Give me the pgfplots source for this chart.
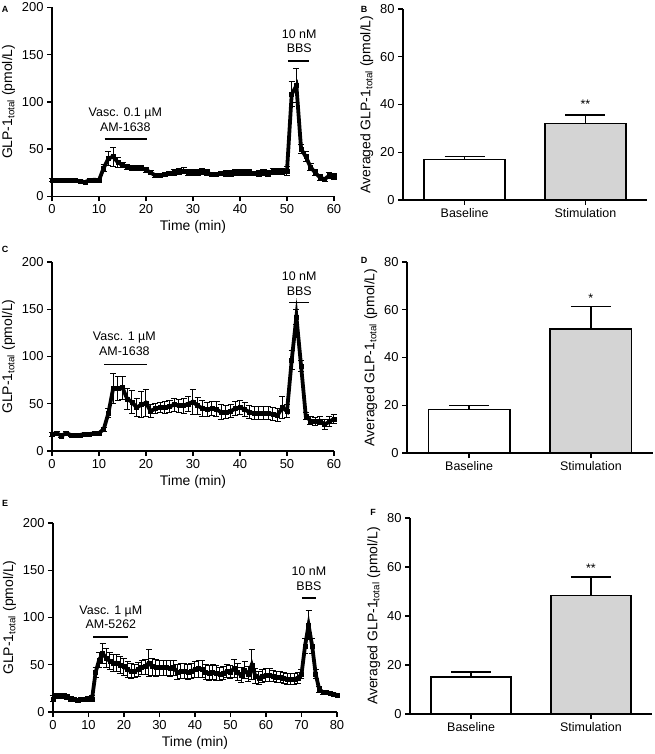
\documentclass[border=0pt]{standalone}
\usepackage{fontspec}
\setmainfont{Liberation Sans}
\usepackage{pgfplots}
\usepackage{pgfplotstable}
\pgfplotsset{compat=1.18}
\newcommand\lbl{\fontsize{12.5}{14.5}\selectfont}
\newcommand\tkl{\fontsize{13}{15}\selectfont}
\newcommand\axl{\fontsize{14}{16}\selectfont}
\definecolor{barGray}{HTML}{D4D4D4}

\pgfplotstableread{
t v e
0 17 1.5
1 17 1.5
2 17 1.5
3 17 1.5
4 16.5 1.5
5 16.5 1.5
6 16 1.5
7 15 1.5
8 17 1.5
9 17.5 1.5
10 17 2
11 30 4
12 40 7
13 42 10
14 36 5
15 33 3
16 31 3
17 30 3
18 30 3
19 30 3
20 28 3
21 25 2
22 22 2
23 22 2
24 23 2
25 24 2
26 25 3
27 26 3
28 27 3
29 25 3
30 25 3
31 25 3
32 26 3
33 25 3
34 23 2
35 23 2
36 24 2
37 24 3
38 24 3
39 25 3
40 25 3
41 25 3
42 25 3
43 24 2
44 24 3
45 25 3
46 24 3
47 26 3
48 26 3
49 26 3
50 27 5
51 108 13
52 117 18
53 50 5
54 42 5
55 31 4
56 25 3
57 20 3
58 18 2
59 22 3
60 21 3
}\dataA

\pgfplotstableread{
t v e
0 17.6 2
1 19 2
2 16 2
3 19 2
4 17 2
5 17 1.5
6 17 1.5
7 18 1.5
8 18 1.5
9 18.5 1.5
10 19 1.5
11 23 2
12 40 5
13 66 16
14 66 13
15 67 12
16 55 11
17 52 12
18 46 10
19 49 14
20 51 14
21 42 7
22 45 5
23 46 5
24 46 6
25 47 6
26 49 7
27 48 7
28 48 8
29 50 8
30 52 13
31 48 9
32 45 8
33 44 7
34 45 7
35 44 8
36 41 8
37 41 7
38 42 7
39 45 7
40 46 7
41 44 7
42 41 7
43 40 7
44 40 7
45 40 7
46 40 7
47 39 7
48 38 7
49 46 12
50 42 7
51 96 10
52 142 8
53 90 6
54 37 4
55 32 4
56 31 4
57 32 4
58 28 5
59 31 5
60 34 5
}\dataC

\pgfplotstableread{
t v e
0 14 3
1 17 3
2 17 3
3 17 3
4 16 3
5 14 2
6 13 2
7 12 2
8 13 2
9 13 2
10 14 2
11 14 3
12 42 5
13 55 8
14 62 11
15 57 10
16 54 9
17 52 9
18 52 9
19 50 9
20 48 9
21 45 8
22 43 8
23 43 7
24 45 7
25 47 7
26 48 8
27 52 14
28 48 9
29 47 9
30 47 8
31 47 8
32 47 8
33 46 8
34 47 8
35 42 8
36 43 8
37 43 8
38 42 8
39 43 8
40 45 8
41 46 9
42 45 9
43 42 8
44 41 8
45 42 8
46 41 8
47 40 7
48 41 7
49 43 7
50 42 7
51 46 10
52 42 9
53 39 8
54 44 9
55 40 8
56 50 16
57 38 8
58 36 7
59 38 7
60 39 7
61 39 7
62 38 6
63 37 6
64 37 6
65 36 6
66 35 6
67 35 6
68 35 6
69 36 6
70 40 5
71 70 8
72 92 15
73 70 8
74 40 5
75 24 3
76 21 2
77 21 2
78 20 2
79 19 2
80 18 2
}\dataE

\pgfplotsset{
  gp/.style={scale only axis, anchor=north west,
    axis x line*=bottom, axis y line*=left,
    axis line style={line width=1.6bp, -},
    tick style={line width=1.4bp, black},
    tick align=outside, major tick length=5bp,
    tick label style={font=\tkl}, label style={font=\axl},
    /pgf/number format/assume math mode=true, clip=false},
  lineplot/.style={gp, ymin=0, ymax=200, ytick={0,50,...,200},
    xlabel={Time (min)}, ylabel={GLP-1\textsubscript{total} (pmol/L)}},
  barplot/.style={gp, xmin=-0.51, xmax=1.51, ymin=0, ymax=80,
    ytick={0,20,...,80}, xtick={0,1}, xticklabels={Baseline,Stimulation},
    xticklabel style={font=\lbl},
    ylabel={Averaged GLP-1\textsubscript{total} (pmol/L)}},
  trace/.style={black, line width=3.8bp, mark=square*, mark size=2bp,
    mark options={line width=0.5bp},
    error bars/y dir=both, error bars/y explicit,
    error bars/error mark=|,
    error bars/error bar style={line width=1bp, black},
    error bars/error mark options={line width=1bp, mark size=3bp, black}},
  bars/.style={ybar, bar width=0.67, bar shift=0pt, draw=black, line width=1.6bp,
    error bars/y dir=plus, error bars/y explicit,
    error bars/error mark=|,
    error bars/error bar style={line width=1.6bp, black},
    error bars/error mark options={line width=1.6bp, mark size=20bp, black}},
}

\begin{document}
\begin{tikzpicture}
\useasboundingbox (0,0) rectangle (655bp,-754bp);
\tikzset{letter/.style={font=\bfseries\fontsize{9}{10}\selectfont}}
\node[letter] at (5bp,-9bp) {A};
\node[letter] at (364bp,-9bp) {B};
\node[letter] at (5bp,-249bp) {C};
\node[letter] at (364bp,-260bp) {D};
\node[letter] at (5bp,-503bp) {E};
\node[letter] at (373bp,-512bp) {F};

% A
\begin{axis}[lineplot, at={(52bp,-7.3bp)}, width=282bp, height=189bp,
  xmin=0, xmax=60, xtick={0,10,...,60}]
\addplot[trace] table[x=t, y=v, y error=e] {\dataA};
\draw[line width=1.6bp] (axis cs:11.2,60.4) -- (axis cs:20.3,60.4);
\node[align=center, font=\lbl] at (axis cs:15.6,81.2) {Vasc. 0.1 µM\\AM-1638};
\draw[line width=1.6bp] (axis cs:50.2,143) -- (axis cs:54.7,143);
\node[align=center, font=\lbl] at (axis cs:52.6,164.2) {10 nM\\BBS};
\end{axis}

% B
\begin{axis}[barplot, at={(403bp,-9bp)}, width=244bp, height=191bp]
\addplot[bars, fill=white] coordinates {(0,17) +- (0,1.3)};
\addplot[bars, fill=barGray] coordinates {(1,32) +- (0,3.6)};
\node[font=\lbl] at (axis cs:1,40) {**};
\end{axis}

% C
\begin{axis}[lineplot, at={(52bp,-262bp)}, width=282bp, height=189bp,
  xmin=0, xmax=60, xtick={0,10,...,60}]
\addplot[trace] table[x=t, y=v, y error=e] {\dataC};
\draw[line width=1.6bp] (axis cs:11.1,91.7) -- (axis cs:20.2,91.7);
\node[align=center, font=\lbl] at (axis cs:15.4,113.5) {Vasc. 1 µM\\AM-1638};
\draw[line width=1.6bp] (axis cs:50.5,157) -- (axis cs:54.7,157);
\node[align=center, font=\lbl] at (axis cs:52.6,177) {10 nM\\BBS};
\end{axis}

% D
\begin{axis}[barplot, at={(407bp,-262bp)}, width=246bp, height=191bp]
\addplot[bars, fill=white] coordinates {(0,18.3) +- (0,1.6)};
\addplot[bars, fill=barGray] coordinates {(1,52) +- (0,9.3)};
\node[font=\lbl] at (axis cs:1,65) {*};
\end{axis}

% E
\begin{axis}[lineplot, at={(53bp,-523bp)}, width=284bp, height=189bp,
  xmin=0, xmax=80, xtick={0,10,...,80}]
\addplot[trace] table[x=t, y=v, y error=e] {\dataE};
\draw[line width=1.6bp] (axis cs:11.3,79.4) -- (axis cs:21.2,79.4);
\node[align=center, font=\lbl] at (axis cs:16.3,100) {Vasc. 1 µM\\AM-5262};
\draw[line width=1.6bp] (axis cs:70.1,120.6) -- (axis cs:74.2,120.6);
\node[align=center, font=\lbl] at (axis cs:72.1,141) {10 nM\\BBS};
\end{axis}

% F
\begin{axis}[barplot, at={(410bp,-518bp)}, width=242bp, height=196bp]
\addplot[bars, fill=white] coordinates {(0,15) +- (0,2.2)};
\addplot[bars, fill=barGray] coordinates {(1,48.3) +- (0,7.7)};
\node[font=\lbl] at (axis cs:1,59.5) {**};
\end{axis}
\end{tikzpicture}
\end{document}
